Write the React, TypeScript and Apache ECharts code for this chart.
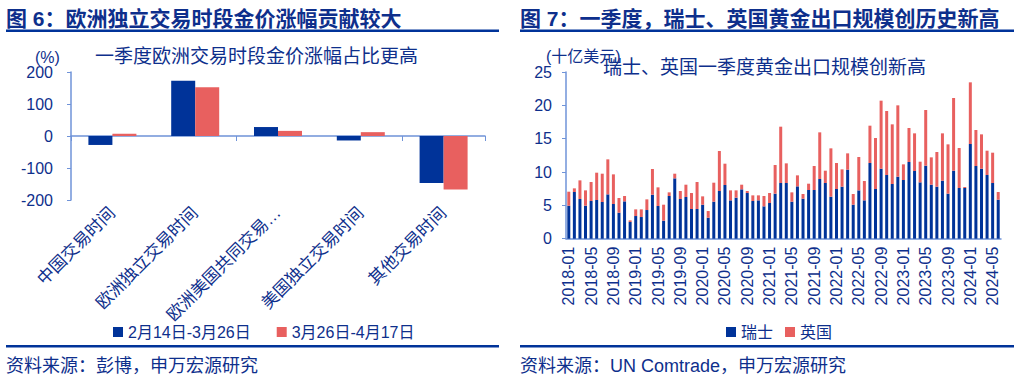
import React, { useEffect, useRef } from "react";
import * as echarts from "echarts";

// ---------- Left chart data ----------
const sessionCats = ["中国交易时间", "欧洲独立交易时间", "欧洲美国共同交易时间", "美国独立交易时间", "其他交易时间"];
const period1Name = "2月14日-3月26日";
const period2Name = "3月26日-4月17日";
const period1 = [-28, 173, 28, -14, -147];
const period2 = [7, 152, 16, 12, -167];

// ---------- Right chart data ----------
const months: string[] = [];
for (let y = 2018; y <= 2024; y++) {
  for (let m = 1; m <= 12; m++) {
    if (y === 2024 && m > 6) break;
    months.push(`${y}-${m < 10 ? "0" + m : m}`);
  }
}
const swiss = [
  4.95, 7.0, 5.95, 4.95, 5.65, 5.8, 5.5, 6.65, 5.2, 3.9, 5.6, 2.5,
  3.4, 3.25, 4.3, 6.6, 4.9, 2.7, 6.4, 9.05, 5.95, 6.25, 4.45, 4.45,
  5.1, 3.15, 5.55, 7.15, 8.05, 5.75, 6.15, 7.4, 6.85, 5.65, 5.75, 4.85,
  5.35, 6.75, 8.35, 8.35, 5.55, 7.85, 6.0, 7.3, 7.3, 8.95, 8.35, 6.3,
  7.45, 7.8, 10.35, 5.1, 7.25, 5.75, 11.35, 7.45, 10.5, 9.55, 8.2, 9.3,
  8.8, 11.5, 10.15, 8.45, 10.95, 8.1, 7.8, 8.7, 6.75, 10.2, 7.6, 7.6,
  14.2, 10.9, 10.5, 9.55, 8.35, 5.85,
];
const uk = [
  2.1, 0.55, 2.8, 2.3, 2.85, 4.1, 4.25, 5.25, 4.45, 2.2, 0.8, 0.25,
  1.0, 1.15, 1.6, 3.85, 2.8, 2.4, 0.55, 0.7, 1.2, 1.85, 2.4, 4.05,
  1.25, 1.0, 2.85, 6.0, 3.2, 1.5, 1.1, 0.7, 0.3, 0.85, 0.75, 1.55,
  1.5, 4.3, 8.45, 2.95, 1.4, 1.65, 0.7, 0.95, 3.6, 7.0, 1.85, 7.25,
  3.9, 2.6, 2.45, 1.6, 5.0, 2.9, 5.6, 7.65, 10.2, 9.6, 8.95, 10.7,
  2.35, 5.1, 5.65, 3.1, 8.35, 4.1, 5.2, 7.1, 7.4, 10.9, 6.0, 0.15,
  9.25, 5.4, 5.15, 3.65, 4.55, 1.15,
];

const NAVY = "#0e2f8c";
const BLUE = "#003399";
const RED = "#E8605F";
const AXIS = "#6f93d8";
const FONT = '"Liberation Sans", "Noto Sans CJK SC", sans-serif';

export default function App() {
  const ref = useRef<HTMLDivElement>(null);
  useEffect(() => {
    if (!ref.current) return;
    const chart = echarts.init(ref.current, undefined, { renderer: "svg" });
    const txt = (x: number, y: number, text: string, size: number, weight: string = "normal") => ({
      type: "text",
      x,
      y,
      style: { text, fill: NAVY, font: `${weight} ${size}px ${FONT}`, verticalAlign: "middle", align: "left" },
    });
    const rect = (x: number, y: number, w: number, h: number) => ({
      type: "rect",
      shape: { x, y, width: w, height: h },
      style: { fill: BLUE },
    });
    chart.setOption({
      animation: false,
      backgroundColor: "#ffffff",
      textStyle: { fontFamily: FONT, color: NAVY },
      graphic: [
        txt(6, 18, "图 6：欧洲独立交易时段金价涨幅贡献较大", 21, "bold"),
        txt(520, 18, "图 7：一季度，瑞士、英国黄金出口规模创历史新高", 21, "bold"),
        rect(6, 29.5, 493, 2.5),
        rect(520, 29.5, 494, 2.5),
        txt(95, 56, "一季度欧洲交易时段金价涨幅占比更高", 19),
        txt(603, 67, "瑞士、英国一季度黄金出口规模创新高", 19),
        txt(35, 57, "(%)", 16),
        txt(546, 56, "(十亿美元)", 16),
        rect(6, 345, 493, 2.5),
        rect(520, 345, 494, 2.5),
        txt(6, 366, "资料来源：彭博，申万宏源研究", 18),
        txt(520, 366, "资料来源：UN Comtrade，申万宏源研究", 18),
      ],
      legend: [
        {
          data: [period1Name, period2Name],
          left: 108,
          top: 319,
          itemWidth: 10,
          itemHeight: 10,
          itemGap: 26,
          icon: "rect",
          textStyle: { color: NAVY, fontSize: 16, fontFamily: FONT },
        },
        {
          data: ["瑞士", "英国"],
          left: 721,
          top: 319,
          itemWidth: 10,
          itemHeight: 10,
          itemGap: 12,
          icon: "rect",
          textStyle: { color: NAVY, fontSize: 16, fontFamily: FONT },
        },
      ],
      grid: [
        { left: 71, top: 72, width: 414, height: 128 },
        { left: 566, top: 72, width: 435, height: 166.7 },
      ],
      xAxis: [
        {
          gridIndex: 0,
          type: "category",
          data: sessionCats,
          axisLine: { onZero: true, lineStyle: { color: AXIS, width: 1.5 } },
          axisTick: { show: true, length: 5, lineStyle: { color: AXIS } },
          axisLabel: { show: false },
        },
        {
          gridIndex: 0,
          type: "category",
          position: "bottom",
          data: sessionCats,
          axisLine: { show: false, onZero: false },
          axisTick: { show: false },
          axisLabel: {
            interval: 0,
            rotate: 45,
            margin: 10,
            fontSize: 17,
            color: NAVY,
            fontFamily: FONT,
            formatter: (v: string) => (v.length > 8 ? v.slice(0, 8) + "…" : v),
          },
        },
        {
          gridIndex: 1,
          type: "category",
          data: months,
          axisLine: { lineStyle: { color: AXIS, width: 1.5 } },
          axisTick: { interval: 3, length: 5, lineStyle: { color: AXIS } },
          axisLabel: { interval: 3, rotate: 90, margin: 8, fontSize: 16, color: NAVY, fontFamily: FONT },
        },
      ],
      yAxis: [
        {
          gridIndex: 0,
          type: "value",
          min: -200,
          max: 200,
          interval: 100,
          splitLine: { show: false },
          axisLine: { show: true, lineStyle: { color: AXIS, width: 1.5 } },
          axisTick: { show: true, length: 4, lineStyle: { color: AXIS } },
          axisLabel: { fontSize: 16, color: NAVY, margin: 18, fontFamily: FONT },
        },
        {
          gridIndex: 1,
          type: "value",
          min: 0,
          max: 25,
          interval: 5,
          splitLine: { show: false },
          axisLine: { show: true, lineStyle: { color: AXIS, width: 1.5 } },
          axisTick: { show: true, length: 4, lineStyle: { color: AXIS } },
          axisLabel: { fontSize: 16, color: NAVY, margin: 14, fontFamily: FONT },
        },
      ],
      series: [
        {
          name: period1Name,
          type: "bar",
          xAxisIndex: 0,
          yAxisIndex: 0,
          data: period1,
          barWidth: 24,
          barGap: "0%",
          itemStyle: { color: BLUE },
        },
        {
          name: period2Name,
          type: "bar",
          xAxisIndex: 0,
          yAxisIndex: 0,
          data: period2,
          barWidth: 24,
          barGap: "0%",
          itemStyle: { color: RED },
        },
        {
          name: "瑞士",
          type: "bar",
          xAxisIndex: 2,
          yAxisIndex: 1,
          stack: "exports",
          data: swiss,
          barWidth: 3,
          itemStyle: { color: BLUE },
        },
        {
          name: "英国",
          type: "bar",
          xAxisIndex: 2,
          yAxisIndex: 1,
          stack: "exports",
          data: uk,
          barWidth: 3,
          itemStyle: { color: RED },
        },
      ],
    });
    return () => chart.dispose();
  }, []);
  return (
    <div
      ref={ref}
      style={{ position: "absolute", left: 0, top: 0, width: 1030, height: 388, background: "#fff" }}
    />
  );
}
